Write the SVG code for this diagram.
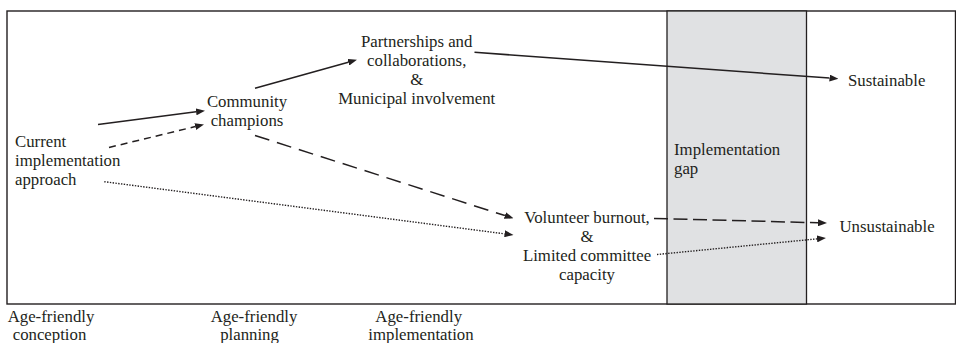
<svg xmlns="http://www.w3.org/2000/svg" width="956" height="343" viewBox="0 0 956 343" font-family="'Liberation Serif', 'Times New Roman', Times, 'DejaVu Serif', serif">
<style>
text{font-family:'Liberation Serif','Times New Roman',Times,'DejaVu Serif',serif;font-size:16.8px;fill:#231f20}
.c{text-anchor:middle}
.ln{fill:none;stroke:#231f20;stroke-width:1.5}
.sd{stroke-dasharray:7 5}
.ld{stroke-dasharray:15 8}
.ld2{stroke-dasharray:14 5.5}
.dt{stroke-dasharray:1.4 1.4;stroke-width:1.4}
</style>
<defs>
<marker id="ah" markerUnits="userSpaceOnUse" viewBox="0 0 9 7" refX="0" refY="3.5" markerWidth="9" markerHeight="7" orient="auto">
<path d="M0,0 L9,3.5 L0,7 z" fill="#231f20"/>
</marker>
</defs>
<rect x="0" y="0" width="956" height="343" fill="#fff"/>
<g id="frame">
<rect x="7" y="11" width="948.5" height="293" fill="none" stroke="#231f20" stroke-width="1.4"/>
</g>
<g id="gap">
<rect x="667" y="11" width="139.5" height="293" fill="#e0e1e3" stroke="#231f20" stroke-width="1.3"/>
<text x="674" y="155">Implementation</text>
<text x="674" y="174">gap</text>
</g>
<g id="connectors">
<line class="ln" x1="98" y1="124.5" x2="196.1" y2="111.85" marker-end="url(#ah)"/>
<line class="ln sd" x1="109" y1="147.5" x2="195.25" y2="126.6" marker-end="url(#ah)"/>
<line class="ln" x1="255" y1="88.3" x2="348.3" y2="62.2" marker-end="url(#ah)"/>
<line class="ln" x1="474.5" y1="52.3" x2="829.5" y2="78.05" marker-end="url(#ah)"/>
<line class="ln ld" x1="255" y1="135.5" x2="504.9" y2="215.55" marker-end="url(#ah)"/>
<line class="ln dt" x1="104.3" y1="181.7" x2="504.6" y2="233.84" marker-end="url(#ah)"/>
<line class="ln ld2" x1="654" y1="218.4" x2="818" y2="222.76" marker-end="url(#ah)"/>
<line class="ln dt" x1="657" y1="254.5" x2="817" y2="238.87" marker-end="url(#ah)"/>
</g>
<g id="current">
<text x="15" y="146.5">Current</text>
<text x="15" y="165.5">implementation</text>
<text x="15" y="184.5">approach</text>
</g>
<g id="champions">
<text class="c" x="247" y="107">Community</text>
<text class="c" x="247" y="125.5">champions</text>
</g>
<g id="partnerships">
<text class="c" x="416.7" y="47.3">Partnerships and</text>
<text class="c" x="416.7" y="66.3">collaborations,</text>
<text class="c" x="416.7" y="85.3">&amp;</text>
<text class="c" x="416.7" y="104.3">Municipal involvement</text>
</g>
<g id="burnout">
<text class="c" x="587" y="222.5">Volunteer burnout,</text>
<text class="c" x="587" y="241.5">&amp;</text>
<text class="c" x="587" y="260.5">Limited committee</text>
<text class="c" x="587" y="279.5">capacity</text>
</g>
<g id="sustainable">
<text x="848" y="86">Sustainable</text>
</g>
<g id="unsustainable">
<text x="839.5" y="232">Unsustainable</text>
</g>
<g id="stages">
<text class="c" x="51" y="321.5">Age-friendly</text>
<text class="c" x="49.5" y="339.5">conception</text>
<text class="c" x="254" y="321.5">Age-friendly</text>
<text class="c" x="249.5" y="339.5">planning</text>
<text class="c" x="418.7" y="321.5">Age-friendly</text>
<text class="c" x="421" y="339.5">implementation</text>
</g>
</svg>
